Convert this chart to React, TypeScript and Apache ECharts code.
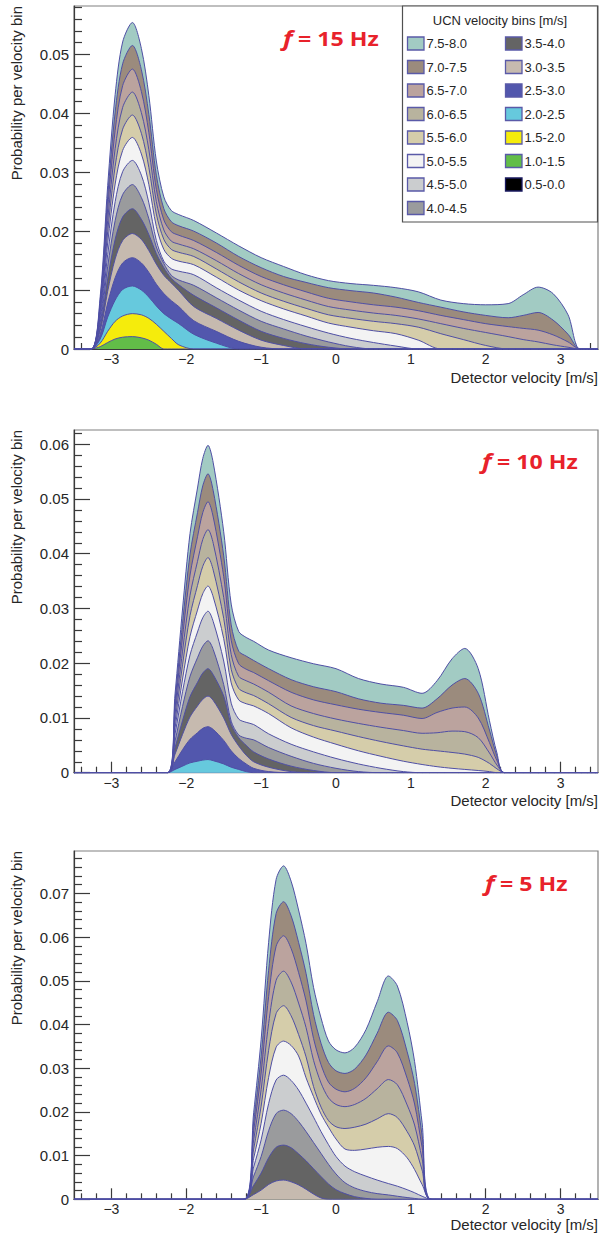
import { useEffect, useRef } from 'react';
import * as echarts from 'echarts';

// ---------- categories / legend ----------
const BINS = ['7.5-8.0', '7.0-7.5', '6.5-7.0', '6.0-6.5', '5.5-6.0', '5.0-5.5', '4.5-5.0', '4.0-4.5',
  '3.5-4.0', '3.0-3.5', '2.5-3.0', '2.0-2.5', '1.5-2.0', '1.0-1.5', '0.5-0.0'];
const BIN_COLORS = ['#a2cbc3', '#9b8b7d', '#bba39e', '#b8b39e', '#d5cdaa', '#f3f3f3', '#cbcdcf', '#9a9b9d',
  '#646464', '#c6baaf', '#5257ad', '#66c9dd', '#f5ec0c', '#62bd48', '#000000'];
const FREQS = ['15', '10', '5'];

// ---------- tick labels ----------
const X_TICKS = [-3, -2, -1, 0, 1, 2, 3];
const X_MINOR_TICKS = [-3.4, -3.2, -2.8, -2.6, -2.4, -2.2, -1.8, -1.6, -1.4, -1.2, -0.8, -0.6, -0.4, -0.2,
  0.2, 0.4, 0.6, 0.8, 1.2, 1.4, 1.6, 1.8, 2.2, 2.4, 2.6, 2.8, 3.2, 3.4];
const Y_TICKS_15 = [0, 0.01, 0.02, 0.03, 0.04, 0.05];
const Y_TICKS_10 = [0, 0.01, 0.02, 0.03, 0.04, 0.05, 0.06];
const Y_TICKS_5 = [0, 0.01, 0.02, 0.03, 0.04, 0.05, 0.06, 0.07];
const Y_MAX = [0.0582, 0.0626, 0.0797];

// ---------- f = 15 Hz (cumulative curves, top bin first) ----------
const X15 = [-3.5, -3.27, -3.15, -3.05, -2.95, -2.85, -2.72, -2.6, -2.5, -2.4, -2.3, -2.2, -2.1, -1.9, -1.6, -1.3,
  -1.0, -0.7, -0.4, -0.1, 0.2, 0.5, 0.8, 1.1, 1.4, 1.7, 2.0, 2.3, 2.5, 2.7, 2.9, 3.1, 3.26, 3.5];
const F15_75_80 = [0, 0, .0089, .0277, .0432, .0521, .0554, .0510, .0430, .0319, .0258, .0235, .0228, .0218, .0197, .0175,
  .0155, .0140, .0126, .0116, .0111, .0108, .0104, .0097, .0083, .0077, .0075, .0077, .0092, .0105, .0094, .0058, 0, 0];
const F15_70_75 = [0, 0, .0082, .0258, .0402, .0484, .0515, .0474, .0398, .0295, .0238, .0216, .0209, .0200, .0180, .0157,
  .0138, .0123, .0113, .0104, .0099, .0095, .0088, .0079, .0071, .0063, .0057, .0053, .0057, .0062, .0049, .0025, 0, 0];
const F15_65_70 = [0, 0, .0076, .0238, .0371, .0447, .0475, .0437, .0367, .0271, .0219, .0199, .0193, .0184, .0164, .0142,
  .0123, .0109, .0097, .0086, .0080, .0075, .0071, .0065, .0057, .0050, .0043, .0038, .0035, .0032, .0024, .0012, 0, 0];
const F15_60_65 = [0, 0, .0070, .0218, .0340, .0410, .0436, .0401, .0338, .0250, .0202, .0183, .0178, .0170, .0150, .0128,
  .0109, .0095, .0083, .0072, .0066, .0061, .0057, .0051, .0043, .0035, .0028, .0021, .0016, .0012, .0007, .0003, 0, 0];
const F15_55_60 = [0, 0, .0064, .0199, .0310, .0373, .0397, .0366, .0308, .0229, .0186, .0169, .0164, .0157, .0136, .0114,
  .0095, .0081, .0069, .0058, .0052, .0047, .0043, .0037, .0026, .0016, .0006, 0, 0, 0, 0, 0, 0, 0];
const F15_50_55 = [0, 0, .0057, .0180, .0280, .0337, .0359, .0331, .0279, .0208, .0169, .0154, .0149, .0143, .0122, .0100,
  .0082, .0068, .0056, .0044, .0037, .0031, .0026, .0015, 0, 0, 0, 0, 0, 0, 0, 0, 0, 0];
const F15_45_50 = [0, 0, .0051, .0160, .0250, .0301, .0320, .0295, .0248, .0184, .0149, .0136, .0132, .0126, .0104, .0083,
  .0064, .0050, .0038, .0027, .0018, .0011, .0005, 0, 0, 0, 0, 0, 0, 0, 0, 0, 0, 0];
const F15_40_45 = [0, 0, .0045, .0140, .0218, .0262, .0279, .0257, .0221, .0173, .0145, .0125, .0117, .0108, .0087, .0066,
  .0047, .0034, .0022, .0012, .0004, 0, 0, 0, 0, 0, 0, 0, 0, 0, 0, 0, 0, 0];
const F15_35_40 = [0, 0, .0038, .0119, .0186, .0224, .0238, .0220, .0194, .0162, .0138, .0120, .0109, .0091, .0070, .0049,
  .0030, .0018, .0009, .0003, 0, 0, 0, 0, 0, 0, 0, 0, 0, 0, 0, 0, 0, 0];
const F15_30_35 = [0, 0, .0031, .0098, .0153, .0184, .0196, .0186, .0167, .0144, .0125, .0112, .0099, .0072, .0052, .0032,
  .0015, .0006, 0, 0, 0, 0, 0, 0, 0, 0, 0, 0, 0, 0, 0, 0, 0, 0];
const F15_25_30 = [0, 0, .0025, .0078, .0121, .0146, .0155, .0146, .0130, .0110, .0094, .0082, .0072, .0048, .0030, .0013,
  .0003, 0, 0, 0, 0, 0, 0, 0, 0, 0, 0, 0, 0, 0, 0, 0, 0, 0];
const F15_20_25 = [0, 0, .0017, .0054, .0083, .0101, .0107, .0100, .0088, .0073, .0060, .0051, .0043, .0025, .0010, 0,
  0, 0, 0, 0, 0, 0, 0, 0, 0, 0, 0, 0, 0, 0, 0, 0, 0, 0];
const F15_15_20 = [0, 0, .0010, .0030, .0047, .0056, .0060, .0058, .0052, .0042, .0030, .0018, .0007, 0, 0, 0,
  0, 0, 0, 0, 0, 0, 0, 0, 0, 0, 0, 0, 0, 0, 0, 0, 0, 0];
const F15_10_15 = [0, 0, .0004, .0011, .0017, .0020, .0021, .0019, .0015, .0008, 0, 0, 0, 0, 0, 0,
  0, 0, 0, 0, 0, 0, 0, 0, 0, 0, 0, 0, 0, 0, 0, 0, 0, 0];

// ---------- f = 10 Hz ----------
const X10 = [-3.5, -2.25, -2.15, -2.05, -1.95, -1.85, -1.78, -1.71, -1.64, -1.5, -1.4, -1.3, -1.2, -1.1, -0.9,
  -0.6, -0.3, 0, 0.3, 0.6, 0.9, 1.15, 1.35, 1.55, 1.72, 1.9, 2.05, 2.15, 2.25, 3.5];
const F10_75_80 = [0, 0, .0144, .0299, .0437, .0520, .0574, .0598, .0566, .0440, .0308, .0258, .0247, .0240, .0224,
  .0210, .0199, .0190, .0172, .0162, .0156, .0145, .0168, .0208, .0227, .0190, .0095, .0036, 0, 0];
const F10_70_75 = [0, 0, .0131, .0273, .0399, .0475, .0524, .0546, .0515, .0396, .0270, .0222, .0213, .0205, .0190,
  .0170, .0157, .0148, .0135, .0127, .0123, .0118, .0135, .0160, .0172, .0145, .0078, .0030, 0, 0];
const F10_65_70 = [0, 0, .0119, .0248, .0361, .0431, .0475, .0495, .0467, .0358, .0242, .0199, .0189, .0183, .0168,
  .0147, .0133, .0124, .0116, .0110, .0105, .0099, .0110, .0118, .0120, .0100, .0055, .0022, 0, 0];
const F10_60_65 = [0, 0, .0107, .0222, .0324, .0386, .0426, .0444, .0419, .0320, .0216, .0176, .0168, .0162, .0147,
  .0122, .0108, .0098, .0090, .0083, .0077, .0072, .0073, .0076, .0075, .0064, .0036, .0014, 0, 0];
const F10_55_60 = [0, 0, .0094, .0197, .0287, .0342, .0377, .0393, .0370, .0282, .0189, .0154, .0146, .0141, .0126,
  .0101, .0086, .0076, .0066, .0057, .0049, .0043, .0040, .0037, .0034, .0028, .0017, .0007, 0, 0];
const F10_50_55 = [0, 0, .0082, .0171, .0249, .0297, .0327, .0341, .0321, .0245, .0164, .0133, .0126, .0122, .0108,
  .0082, .0065, .0052, .0040, .0030, .0021, .0015, .0011, .0008, .0006, .0004, .0002, 0, 0, 0];
const F10_45_50 = [0, 0, .0071, .0148, .0215, .0257, .0283, .0295, .0276, .0204, .0127, .0098, .0092, .0088, .0071,
  .0052, .0038, .0026, .0016, .0008, .0002, 0, 0, 0, 0, 0, 0, 0, 0, 0];
const F10_40_45 = [0, 0, .0058, .0121, .0176, .0210, .0231, .0241, .0225, .0161, .0094, .0069, .0063, .0060, .0046,
  .0030, .0017, .0008, .0002, 0, 0, 0, 0, 0, 0, 0, 0, 0, 0, 0];
const F10_35_40 = [0, 0, .0046, .0095, .0139, .0165, .0182, .0190, .0179, .0140, .0088, .0064, .0050, .0038, .0025,
  .0012, .0004, 0, 0, 0, 0, 0, 0, 0, 0, 0, 0, 0, 0, 0];
const F10_30_35 = [0, 0, .0034, .0070, .0102, .0122, .0134, .0140, .0132, .0100, .0070, .0049, .0032, .0020, .0010,
  .0002, 0, 0, 0, 0, 0, 0, 0, 0, 0, 0, 0, 0, 0, 0];
const F10_25_30 = [0, 0, .0020, .0042, .0061, .0073, .0081, .0084, .0079, .0059, .0040, .0026, .0016, .0008, .0002,
  0, 0, 0, 0, 0, 0, 0, 0, 0, 0, 0, 0, 0, 0, 0];
const F10_20_25 = [0, 0, .0006, .0012, .0018, .0021, .0023, .0024, .0022, .0016, .0010, .0006, .0002, 0, 0,
  0, 0, 0, 0, 0, 0, 0, 0, 0, 0, 0, 0, 0, 0, 0];

// ---------- f = 5 Hz ----------
const X5 = [-3.5, -1.23, -1.1, -1.0, -0.9, -0.8, -0.7, -0.6, -0.5, -0.4, -0.3, -0.2, -0.1, 0, 0.12, 0.25, 0.4,
  0.55, 0.7, 0.82, 0.95, 1.05, 1.15, 1.27, 3.5];
const F5_75_80 = [0, 0, .0198, .0366, .0588, .0732, .0763, .0728, .0662, .0585, .0485, .0415, .0362, .0342, .0335, .0348,
  .0388, .0452, .0511, .0488, .0405, .0315, .0175, 0, 0];
const F5_70_75 = [0, 0, .0177, .0327, .0524, .0654, .0681, .0649, .0588, .0517, .0423, .0357, .0313, .0294, .0288, .0298,
  .0330, .0380, .0428, .0409, .0338, .0265, .0146, 0, 0];
const F5_65_70 = [0, 0, .0157, .0289, .0464, .0579, .0603, .0574, .0519, .0454, .0368, .0308, .0268, .0252, .0246, .0254,
  .0278, .0315, .0351, .0335, .0277, .0218, .0119, 0, 0];
const F5_60_65 = [0, 0, .0136, .0251, .0402, .0501, .0522, .0497, .0449, .0393, .0318, .0266, .0232, .0217, .0212, .0217,
  .0231, .0253, .0274, .0262, .0216, .0170, .0093, 0, 0];
const F5_55_60 = [0, 0, .0115, .0213, .0341, .0425, .0443, .0420, .0377, .0326, .0258, .0211, .0180, .0166, .0162, .0165,
  .0172, .0184, .0196, .0187, .0155, .0122, .0067, 0, 0];
const F5_50_55 = [0, 0, .0094, .0174, .0279, .0348, .0362, .0352, .0328, .0278, .0235, .0195, .0165, .0138, .0115, .0112,
  .0115, .0119, .0121, .0116, .0095, .0068, .0034, 0, 0];
const F5_45_50 = [0, 0, .0074, .0136, .0219, .0273, .0284, .0272, .0250, .0220, .0188, .0155, .0125, .0098, .0076, .0063,
  .0053, .0044, .0036, .0030, .0022, .0015, .0007, 0, 0];
const F5_40_45 = [0, 0, .0053, .0098, .0157, .0196, .0204, .0196, .0178, .0155, .0130, .0105, .0080, .0058, .0038, .0026,
  .0018, .0013, .0010, .0007, .0004, .0002, 0, 0, 0];
const F5_35_40 = [0, 0, .0032, .0060, .0095, .0119, .0124, .0118, .0104, .0088, .0070, .0052, .0035, .0022, .0013, .0006,
  .0002, 0, 0, 0, 0, 0, 0, 0, 0];
const F5_30_35 = [0, 0, .0011, .0021, .0034, .0042, .0044, .0040, .0033, .0023, .0012, .0003, 0, 0, 0, 0,
  0, 0, 0, 0, 0, 0, 0, 0, 0];

const PANEL_DATA = [
  { x: X15, curves: [F15_75_80, F15_70_75, F15_65_70, F15_60_65, F15_55_60, F15_50_55, F15_45_50, F15_40_45,
    F15_35_40, F15_30_35, F15_25_30, F15_20_25, F15_15_20, F15_10_15], yTicks: Y_TICKS_15 },
  { x: X10, curves: [F10_75_80, F10_70_75, F10_65_70, F10_60_65, F10_55_60, F10_50_55, F10_45_50, F10_40_45,
    F10_35_40, F10_30_35, F10_25_30, F10_20_25], yTicks: Y_TICKS_10 },
  { x: X5, curves: [F5_75_80, F5_70_75, F5_65_70, F5_60_65, F5_55_60, F5_50_55, F5_45_50, F5_40_45,
    F5_35_40, F5_30_35], yTicks: Y_TICKS_5 },
];

// ---------- layout (pixels) ----------
const LAYOUT = [
  { top: 6, height: 343, fx: 283, fy: 38, xTitleY: 377 },
  { top: 430, height: 342.7, fx: 482, fy: 461, xTitleY: 800 },
  { top: 851, height: 348.3, fx: 485, fy: 883, xTitleY: 1224 },
];
const GRID_LEFT = 74;
const GRID_WIDTH = 524;
const FONT = '"Liberation Sans", Arial, Helvetica, sans-serif';
const AXIS_COLOR = '#3a3a3a';
const TEXT_COLOR = '#262626';
const LINE_COLOR = '#4f4fa5';
const RED = '#e8222b';

function minorY(max: number): number[] {
  const out: number[] = [];
  for (let i = 1; i * 0.002 <= max + 1e-9; i++) {
    if (i % 5 !== 0) out.push(+(i * 0.002).toFixed(4));
  }
  return out;
}

const fmtX = (v: number) => (v < 0 ? '\u2212' + Math.abs(v) : String(v));
const fmtY = (v: number) => (Math.abs(v) < 1e-9 ? '0' : v.toFixed(2));

function buildOption() {
  const grid: any[] = [];
  const xAxis: any[] = [];
  const yAxis: any[] = [];
  const series: any[] = [];
  const graphic: any[] = [];

  LAYOUT.forEach((L, k) => {
    const P = PANEL_DATA[k];
    const ymax = Y_MAX[k];
    grid.push({
      left: GRID_LEFT, top: L.top, width: GRID_WIDTH, height: L.height,
      show: true, borderColor: '#808080', borderWidth: 1.2, backgroundColor: 'transparent',
    });
    xAxis.push({
      type: 'value', gridIndex: k, min: -3.5, max: 3.5, position: 'bottom',
      axisLine: { show: true, onZero: false, lineStyle: { color: AXIS_COLOR, width: 1.2 } },
      axisTick: { show: true, inside: true, length: 11, customValues: X_TICKS, lineStyle: { color: AXIS_COLOR, width: 1.2 } },
      axisLabel: { show: true, customValues: X_TICKS, formatter: fmtX, fontSize: 14, fontFamily: FONT, color: TEXT_COLOR, margin: 3 },
      splitLine: { show: false },
    });
    xAxis.push({
      type: 'value', gridIndex: k, min: -3.5, max: 3.5, position: 'bottom',
      axisLine: { show: false, onZero: false },
      axisTick: { show: true, inside: true, length: 6, customValues: X_MINOR_TICKS, lineStyle: { color: AXIS_COLOR, width: 1.2 } },
      axisLabel: { show: false },
      splitLine: { show: false },
    });
    yAxis.push({
      type: 'value', gridIndex: k, min: 0, max: ymax, position: 'left',
      axisLine: { show: true, onZero: false, lineStyle: { color: AXIS_COLOR, width: 1.2 } },
      axisTick: { show: true, inside: true, length: 16, customValues: P.yTicks, lineStyle: { color: AXIS_COLOR, width: 1.2 } },
      axisLabel: { show: true, customValues: P.yTicks, formatter: fmtY, fontSize: 15, fontFamily: FONT, color: TEXT_COLOR, margin: 5 },
      splitLine: { show: false },
    });
    yAxis.push({
      type: 'value', gridIndex: k, min: 0, max: ymax, position: 'left',
      axisLine: { show: false, onZero: false },
      axisTick: { show: true, inside: true, length: 8, customValues: minorY(ymax), lineStyle: { color: AXIS_COLOR, width: 1.2 } },
      axisLabel: { show: false },
      splitLine: { show: false },
    });

    P.curves.forEach((curve, i) => {
      series.push({
        type: 'line',
        name: BINS[i],
        xAxisIndex: 2 * k,
        yAxisIndex: 2 * k,
        data: P.x.map((x, j) => [x, curve[j]]),
        showSymbol: false,
        symbol: 'none',
        smooth: 0.3,
        silent: true,
        lineStyle: { color: LINE_COLOR, width: 1 },
        areaStyle: { color: BIN_COLORS[i], opacity: 1 },
      });
    });

    graphic.push({
      type: 'text', x: 16, y: L.top, rotation: Math.PI / 2, z: 50,
      style: { text: 'Probability per velocity bin', fontSize: 15, fontFamily: FONT, fill: TEXT_COLOR,
        textAlign: 'right', textVerticalAlign: 'middle' },
    });
    graphic.push({
      type: 'text', x: 598, y: L.xTitleY, z: 50,
      style: { text: 'Detector velocity [m/s]', fontSize: 15, fontFamily: FONT, fill: TEXT_COLOR,
        textAlign: 'right', textVerticalAlign: 'middle' },
    });
    graphic.push({
      type: 'text', x: L.fx, y: L.fy, z: 50, scaleX: 1.22,
      style: { text: 'f', fontSize: 21, fontFamily: '"Open Sans", sans-serif', fontWeight: 'bold', fontStyle: 'italic',
        fill: RED, textAlign: 'left', textVerticalAlign: 'middle' },
    });
    graphic.push({
      type: 'text', x: L.fx + 15, y: L.fy, z: 50, scaleX: 1.22,
      style: { text: '= ' + FREQS[k] + ' Hz', fontSize: 19, fontFamily: '"Open Sans", sans-serif', fontWeight: 'bold',
        fill: RED, textAlign: 'left', textVerticalAlign: 'middle' },
    });
  });

  graphic.push({
    type: 'rect', z: 60, shape: { x: 402.5, y: 6, width: 195, height: 216 },
    style: { fill: '#ffffff', stroke: '#505050', lineWidth: 1.2 },
  });
  graphic.push({
    type: 'text', x: 500, y: 20, z: 61,
    style: { text: 'UCN velocity bins [m/s]', fontSize: 13, fontFamily: FONT, fill: TEXT_COLOR,
      textAlign: 'center', textVerticalAlign: 'middle' },
  });
  BINS.forEach((b, i) => {
    const col = i < 8 ? 0 : 1;
    const row = i < 8 ? i : i - 8;
    const cy = 43.5 + 23.5 * row;
    const sx = col === 0 ? 407.5 : 505.5;
    graphic.push({
      type: 'rect', z: 61, shape: { x: sx, y: cy - 6.5, width: 16.5, height: 13 },
      style: { fill: BIN_COLORS[i], stroke: i === 14 ? '#1a1a60' : '#5a5aa8', lineWidth: 1.3 },
    });
    graphic.push({
      type: 'text', x: sx + 19, y: cy, z: 61,
      style: { text: b, fontSize: 13, fontFamily: FONT, fill: TEXT_COLOR, textAlign: 'left', textVerticalAlign: 'middle' },
    });
  });

  return {
    animation: false,
    backgroundColor: '#ffffff',
    textStyle: { fontFamily: FONT },
    grid, xAxis, yAxis, series, graphic,
  };
}

export default function App() {
  const ref = useRef<HTMLDivElement>(null);
  useEffect(() => {
    if (!ref.current) return;
    const chart = echarts.init(ref.current, undefined, { renderer: 'svg' });
    chart.setOption(buildOption() as any);
    return () => chart.dispose();
  }, []);
  return <div ref={ref} style={{ position: 'absolute', left: 0, top: 0, width: 600, height: 1233 }} />;
}
